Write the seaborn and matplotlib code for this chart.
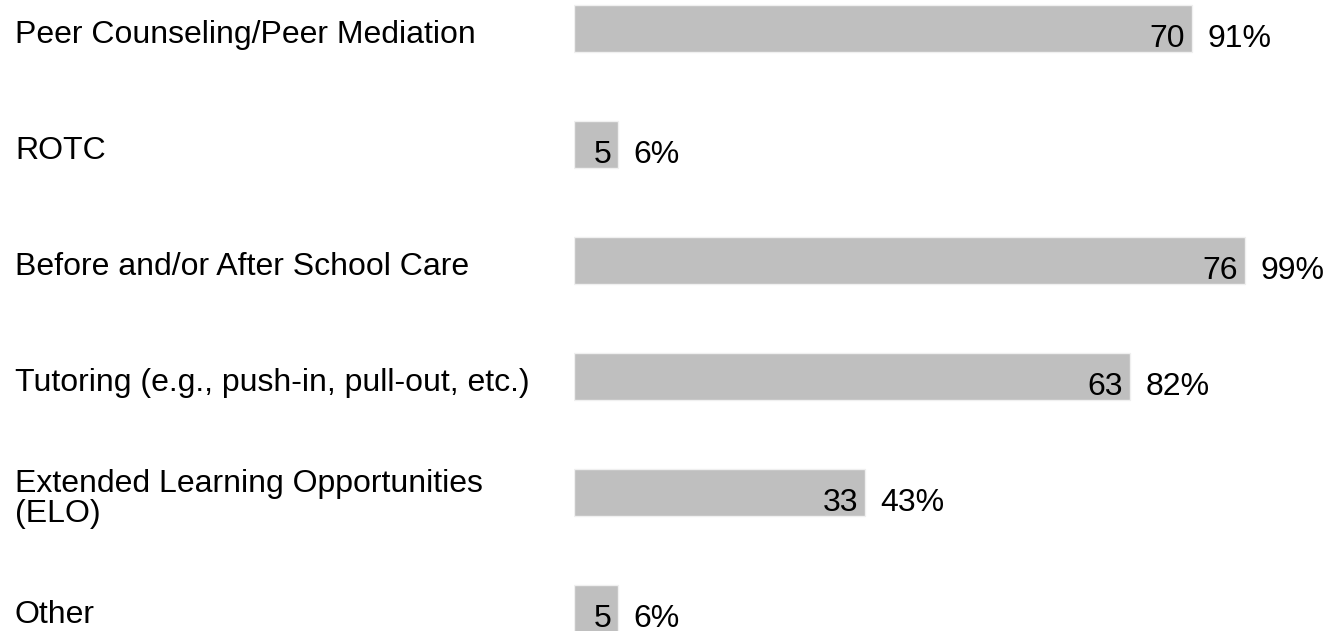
import pandas as pd
import matplotlib
matplotlib.use("Agg")
import matplotlib.pyplot as plt
import seaborn as sns

# Datos
programas = [
    "Peer Counseling/Peer Mediation",
    "ROTC",
    "Before and/or After School Care",
    "Tutoring (e.g., push-in, pull-out, etc.)",
    "Extended Learning Opportunities\n(ELO)",
    "Other",
]
conteos = [70, 5, 76, 63, 33, 5]
porcentajes = [91, 6, 99, 82, 43, 6]


def graficar():
    df = pd.DataFrame({"Programa": programas, "Conteo": conteos, "Pct": porcentajes})

    sns.set_style("white")
    plt.rcParams["font.family"] = ["Liberation Sans", "DejaVu Sans"]

    fig = plt.figure(figsize=(13.29, 6.31), dpi=100)
    # el eje ocupa desde el inicio de las barras hasta el borde derecho
    ax = fig.add_axes([574 / 1329, 0, 755 / 1329, 1])

    sns.barplot(
        data=df, y="Programa", x="Conteo", orient="h",
        color="#bfbfbf", width=0.4, saturation=1,
        edgecolor="#f0f0f0", linewidth=1.0, ax=ax,
    )

    ax.set_xlim(0, 85.5)
    ax.set_ylim(5.194, -0.246)
    ax.set_axis_off()

    fs = 23
    for i, row in df.iterrows():
        # etiqueta de la categoria a la izquierda
        ax.annotate(row["Programa"], xy=(15 / 1329, i),
                    xycoords=("figure fraction", "data"),
                    xytext=(0, -4.5), textcoords="offset points",
                    ha="left", va="center", fontsize=fs, color="black",
                    linespacing=1.0, annotation_clip=False)
        # conteo dentro de la barra
        ax.annotate(str(row["Conteo"]), xy=(row["Conteo"], i),
                    xytext=(-5, -13), textcoords="offset points",
                    ha="right", va="baseline", fontsize=fs, color="black",
                    annotation_clip=False)
        # porcentaje a la derecha
        ax.annotate(f"{row['Pct']}%", xy=(row["Conteo"], i),
                    xytext=(11, -13), textcoords="offset points",
                    ha="left", va="baseline", fontsize=fs, color="black",
                    annotation_clip=False)

    fig.savefig("out.png", dpi=100)


if __name__ == "__main__":
    graficar()
